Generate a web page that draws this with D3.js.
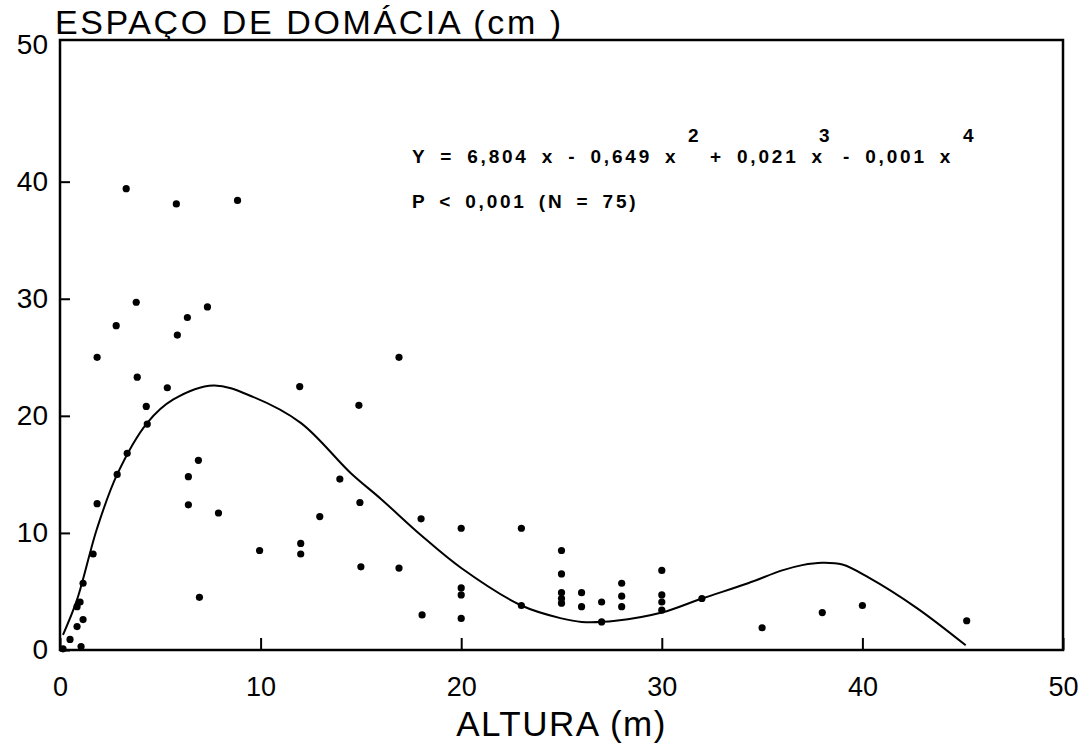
<!DOCTYPE html>
<html>
<head>
<meta charset="utf-8">
<script src="https://cdn.jsdelivr.net/npm/d3@7"></script>
<style>
  body { margin: 0; background: #fff; }
  svg text { font-family: "Liberation Sans", Arial, sans-serif; fill: #000; }
</style>
</head>
<body>
<div id="viz"></div>
<script>
// scatter: altura (m) vs espaco de domacia (cm)
var alturas = [3.3, 5.8, 8.85, 3.8, 2.8, 5.85, 6.35, 7.35, 1.85, 16.9,
  3.85, 5.35, 11.95, 4.3, 14.9, 4.35, 3.35, 2.85, 6.9, 6.4,
  13.95, 1.85, 6.4, 14.95, 7.9, 12.95, 1.65, 9.95, 12, 12,
  15, 16.9, 1.15, 6.95, 1.0, 0.85, 1.15, 0.85, 0.5, 1.05,
  0.15, 18, 18.05, 20, 20, 20, 20, 23, 23, 25,
  25, 25, 25, 25, 26, 26, 27, 27, 28, 28,
  28, 30, 30, 30, 30, 32, 35, 38, 40, 45.2];
var espacos = [39.4, 38.1, 38.4, 29.7, 27.7, 26.9, 28.4, 29.3, 25.0, 25.0,
  23.3, 22.4, 22.5, 20.8, 20.9, 19.3, 16.8, 15.0, 16.2, 14.8,
  14.6, 12.5, 12.4, 12.6, 11.7, 11.4, 8.2, 8.5, 9.1, 8.2,
  7.1, 7.0, 5.7, 4.5, 4.1, 3.7, 2.6, 2.0, 0.9, 0.3,
  0.1, 11.2, 3.0, 10.4, 5.3, 4.7, 2.7, 10.4, 3.8, 8.5,
  6.5, 4.9, 4.4, 4.0, 4.9, 3.7, 4.1, 2.4, 5.7, 4.6,
  3.7, 6.8, 4.7, 4.1, 3.4, 4.4, 1.9, 3.2, 3.8, 2.5];

// fitted curve
var curvaX = [0.15, 0.85, 1.85, 2.85, 4.35, 5.65, 7.65, 9.65, 12,
  14.5, 16, 18, 20, 23, 25, 26, 27.7, 30, 32,
  34.3, 36, 37, 38, 39, 40.3, 42.7, 45.15];
var curvaY = [1.3, 4.3, 10.4, 15.0, 19.4, 21.4, 22.6, 21.6, 19.4,
  15.1, 12.9, 9.8, 7.0, 3.8, 2.7, 2.4, 2.5, 3.2, 4.4,
  5.7, 6.8, 7.25, 7.45, 7.3, 6.2, 3.6, 0.4];

var xTicks = [0, 10, 20, 30, 40, 50];
var yTicks = [0, 10, 20, 30, 40];

var W = 1089, H = 748;
var svg = d3.select('#viz').append('svg')
    .attr('width', W)
    .attr('height', H);

var x = d3.scaleLinear().domain([0, 50]).range([60, 1063]);
var y = d3.scaleLinear().domain([0, 52.1]).range([650, 40]);

// axes (ticks point inward)
var xAxis = svg.append('g')
    .attr('transform', 'translate(0,' + y(0) + ')')
    .call(d3.axisBottom(x).tickValues(xTicks).tickSize(-12).tickPadding(27).tickFormat(d3.format('d')));
xAxis.selectAll('text').style('font-size', '27px');

var yAxis = svg.append('g')
    .attr('transform', 'translate(' + x(0) + ',0)')
    .call(d3.axisLeft(y).tickValues(yTicks).tickSize(-10).tickPadding(12).tickFormat(d3.format('d')));
yAxis.selectAll('text').style('font-size', '28px');

svg.selectAll('.domain').remove();
svg.selectAll('.tick line').attr('stroke', '#000').attr('stroke-width', 2);

// top label of y axis sits on the frame
svg.append('text')
    .attr('x', x(0) - 12)
    .attr('y', y.range()[1] + 5)
    .attr('dy', '0.32em')
    .attr('text-anchor', 'end')
    .style('font-size', '28px')
    .text('50');

// frame
svg.append('rect')
    .attr('x', x(0))
    .attr('y', y.range()[1])
    .attr('width', x(50) - x(0))
    .attr('height', y(0) - y.range()[1])
    .attr('fill', 'none')
    .attr('stroke', '#000')
    .attr('stroke-width', 2.5);

// curve
var line = d3.line()
    .x(function(d){ return x(d[0]); })
    .y(function(d){ return y(d[1]); })
    .curve(d3.curveCatmullRom);

svg.append('path')
    .datum(d3.zip(curvaX, curvaY))
    .attr('d', line)
    .attr('fill', 'none')
    .attr('stroke', '#000')
    .attr('stroke-width', 2);

// points
svg.selectAll('circle.pt')
    .data(d3.zip(alturas, espacos))
    .enter().append('circle')
    .attr('class', 'pt')
    .attr('cx', function(d){ return x(d[0]); })
    .attr('cy', function(d){ return y(d[1]); })
    .attr('r', 3.6)
    .style('fill', '#000');

// titles
svg.append('text')
    .attr('x', 55)
    .attr('y', 34)
    .style('font-size', '34px')
    .style('letter-spacing', '2.6px')
    .text('ESPAÇO DE DOMÁCIA (cm )');

svg.append('text')
    .attr('x', (x(0) + x(50)) / 2)
    .attr('y', 736)
    .attr('text-anchor', 'middle')
    .style('font-size', '35px')
    .style('letter-spacing', '1.5px')
    .text('ALTURA (m)');

// equation
var eq = [
  { t: 'Y = 6,804 x - 0,649 x', x: 412, sup: false },
  { t: '2', x: 688, sup: true },
  { t: '+ 0,021 x', x: 710, sup: false },
  { t: '3', x: 819, sup: true },
  { t: '- 0,001 x', x: 843, sup: false },
  { t: '4', x: 963, sup: true }
];
svg.append('g').selectAll('text')
    .data(eq)
    .enter().append('text')
    .attr('x', function(d){ return d.x; })
    .attr('y', function(d){ return d.sup ? 142 : 163; })
    .style('font-size', '19px')
    .style('font-weight', 'bold')
    .style('letter-spacing', '2.8px')
    .style('word-spacing', '5px')
    .text(function(d){ return d.t; });

svg.append('text')
    .attr('x', 412)
    .attr('y', 208)
    .style('font-size', '19px')
    .style('font-weight', 'bold')
    .style('letter-spacing', '2.8px')
    .style('word-spacing', '4px')
    .text('P < 0,001 (N = 75)');
</script>
</body>
</html>
